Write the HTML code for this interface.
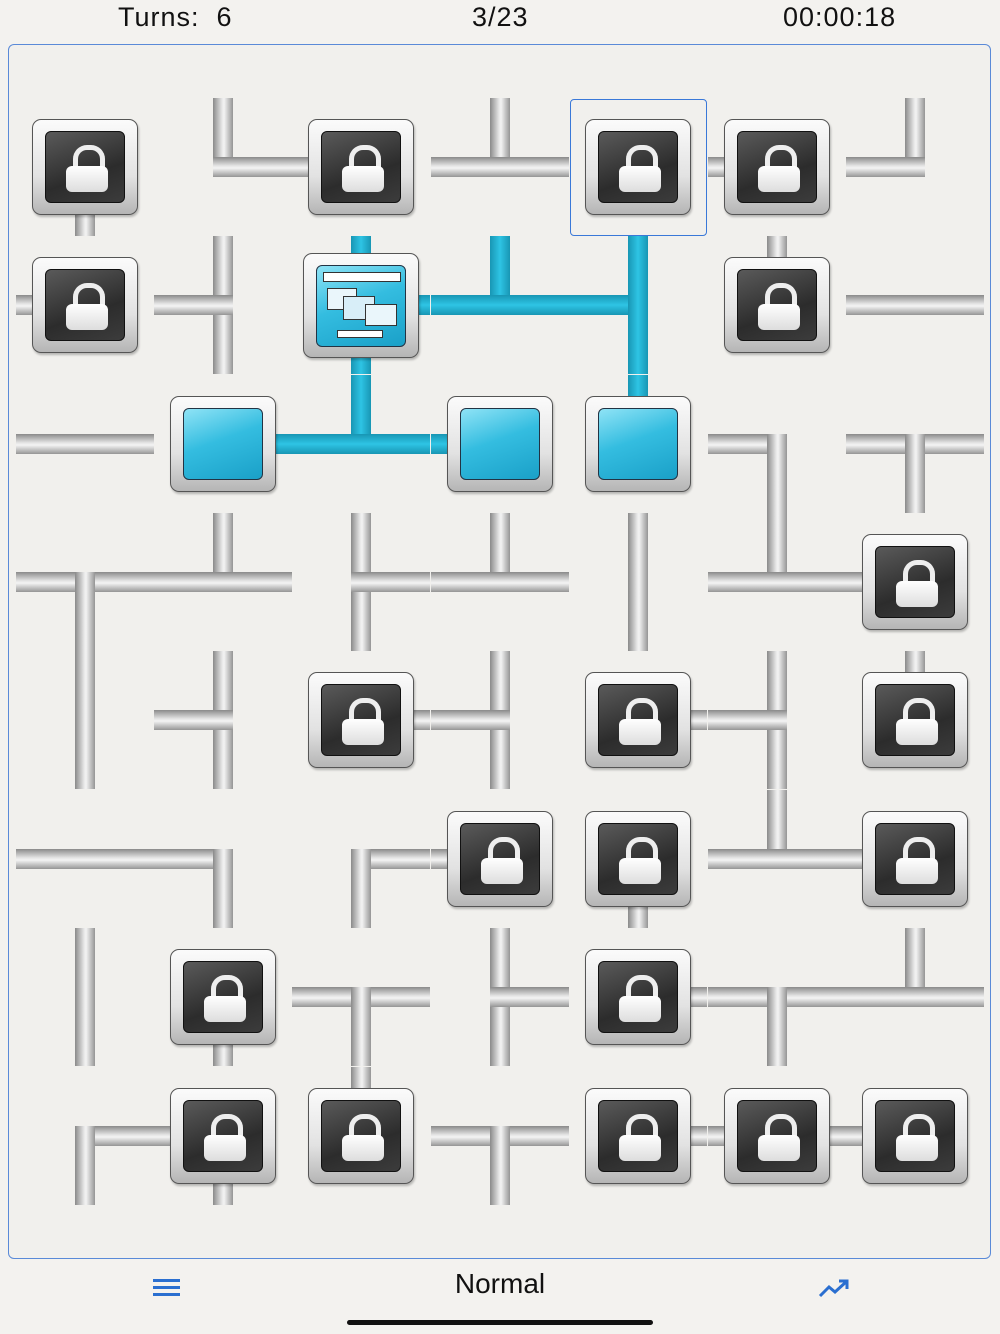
<!DOCTYPE html>
<html><head><meta charset="utf-8"><style>
html,body{margin:0;padding:0;width:1000px;height:1334px;background:#f3f2ef;overflow:hidden;font-family:"Liberation Sans",sans-serif;}
#board{position:absolute;left:8px;top:44px;width:983px;height:1215px;border:1px solid #5a8ad8;border-radius:6px;background:#f1f0ed;box-sizing:border-box;}
.p{position:absolute;background:linear-gradient(var(--d),#8a8a8a,#e6e6e6 45%,#f4f4f4 55%,#959595);}
.pb{position:absolute;background:linear-gradient(var(--d),#1896b4,#2ec4e4 50%,#1896b4);}
.box{position:absolute;width:106px;height:96px;border:1px solid #555;border-radius:9px;background:linear-gradient(#fbfbfb,#e2e2e2 60%,#b5b5b5);box-sizing:border-box;box-shadow:1px 2px 2px rgba(0,0,0,.25);}
.in{position:absolute;left:12px;top:11px;width:80px;height:72px;border-radius:6px;border:1px solid #111;background:linear-gradient(160deg,#5a5a5a,#2c2c2c 60%,#3c3c3c);box-sizing:border-box;}
.in.t{background:linear-gradient(160deg,#8fe3f6,#34bde0 45%,#1aa0c8);border-color:#234;}
.sh{position:absolute;left:27px;top:13px;width:22px;height:26px;border:5px solid #eee;border-bottom:none;border-radius:14px 14px 0 0;}
.bd{position:absolute;left:20px;top:34px;width:42px;height:26px;border-radius:6px;background:linear-gradient(#fff,#ddd);}
.hd{position:absolute;top:2px;font-size:27px;color:#111;letter-spacing:1px}
</style></head><body>
<div class="hd" style="left:118px">Turns:&nbsp; 6</div>
<div class="hd" style="left:472px">3/23</div>
<div class="hd" style="left:783px">00:00:18</div>
<div id="board"></div>
<div id="g"></div>
<div style="position:absolute;left:570px;top:99px;width:137px;height:137px;border:1px solid #3a78d8;border-radius:4px;box-sizing:border-box"></div>
<div style="position:absolute;left:153px;top:1279px;width:27px;height:3px;background:#2a6fd0;box-shadow:0 7px 0 #2a6fd0,0 14px 0 #2a6fd0"></div>
<div style="position:absolute;left:0;width:1000px;top:1268px;text-align:center;font-size:28px;color:#111">Normal</div>
<svg style="position:absolute;left:818px;top:1278px" width="32" height="22"><polyline points="2,18 11,9 17,14 28,4" fill="none" stroke="#2a6fd0" stroke-width="3"/><polyline points="21,3 29,3 29,11" fill="none" stroke="#2a6fd0" stroke-width="3"/></svg>
<div style="position:absolute;left:347px;top:1320px;width:306px;height:5px;border-radius:3px;background:#111"></div>
<script>
var cx=[85,223,361,500,638,777,915],cy=[167,305,444,582,720,859,997,1136],H=69,W=10;
var G=[
["L:S","P:NE","L:W","P:NEW","L:","L:W","P:NW"],
["L:W","P:NSW","S:NES","B:NEW","B:WNS","L:N","P:WE"],
["P:WE","T:E","B:NEW","T:W","T:N","P:WS","P:WES"],
["P:EWS","P:NEW","P:NSE","P:NEW","P:NS","P:NWE","L:W"],
["P:NS","P:NSW","L:E","P:NSW","L:E","P:NSW","L:N"],
["P:WE","P:WS","P:ES","L:W","L:S","P:NWE","L:W"],
["P:NS","L:S","P:WES","P:NSE","L:E","P:WES","P:NWE"],
["P:ES","L:SW","L:N","P:WES","L:E","L:WE","L:W"]];
var blue={"1,2":"NES","1,3":"NEW","1,4":"WNS","2,1":"E","2,2":"NEW","2,3":"W","2,4":"N"};
var g=document.getElementById('g'),h='';
function seg(x,y,d,b){var c=b?'pb':'p',s,w=2*W;
 if(d=='N')s='left:'+(x-W)+'px;top:'+(y-H)+'px;width:'+w+'px;height:'+(H+W)+'px;--d:to right';
 if(d=='S')s='left:'+(x-W)+'px;top:'+(y-W)+'px;width:'+w+'px;height:'+(H+W)+'px;--d:to right';
 if(d=='W')s='left:'+(x-H)+'px;top:'+(y-W)+'px;width:'+(H+W)+'px;height:'+w+'px;--d:to bottom';
 if(d=='E')s='left:'+(x-W)+'px;top:'+(y-W)+'px;width:'+(H+W)+'px;height:'+w+'px;--d:to bottom';
 return '<div class="'+c+'" style="'+s+'"></div>';}
var boxes='';
for(var r=0;r<8;r++)for(var c=0;c<7;c++){var v=G[r][c].split(':'),t=v[0],ds=v[1],bl=blue[r+','+c]||'';
 for(var i=0;i<ds.length;i++)h+=seg(cx[c],cy[r],ds[i],bl.indexOf(ds[i])>=0);
 var x=cx[c],y=cy[r];
 if(t=='L')boxes+='<div class="box" style="left:'+(x-53)+'px;top:'+(y-48)+'px"><div class="in"><div class="sh"></div><div class="bd"></div></div></div>';
 if(t=='T')boxes+='<div class="box" style="left:'+(x-53)+'px;top:'+(y-48)+'px"><div class="in t"></div></div>';
 if(t=='S')boxes+='<div class="box" style="left:'+(x-58)+'px;top:'+(y-52)+'px;width:116px;height:105px"><div class="in t" style="left:12px;top:11px;width:90px;height:82px"><div style="position:absolute;left:6px;top:6px;width:76px;height:8px;background:#fff;border:1px solid #333"></div><div style="position:absolute;left:10px;top:22px;width:28px;height:20px;background:#eaf6fb;border:1px solid #333"></div><div style="position:absolute;left:26px;top:30px;width:30px;height:22px;background:#d8eef8;border:1px solid #333"></div><div style="position:absolute;left:48px;top:38px;width:30px;height:20px;background:#eaf6fb;border:1px solid #333"></div><div style="position:absolute;left:20px;top:64px;width:44px;height:6px;background:#fff;border:1px solid #333"></div></div></div>';
}
g.innerHTML=h+boxes;
</script>
</body></html>
